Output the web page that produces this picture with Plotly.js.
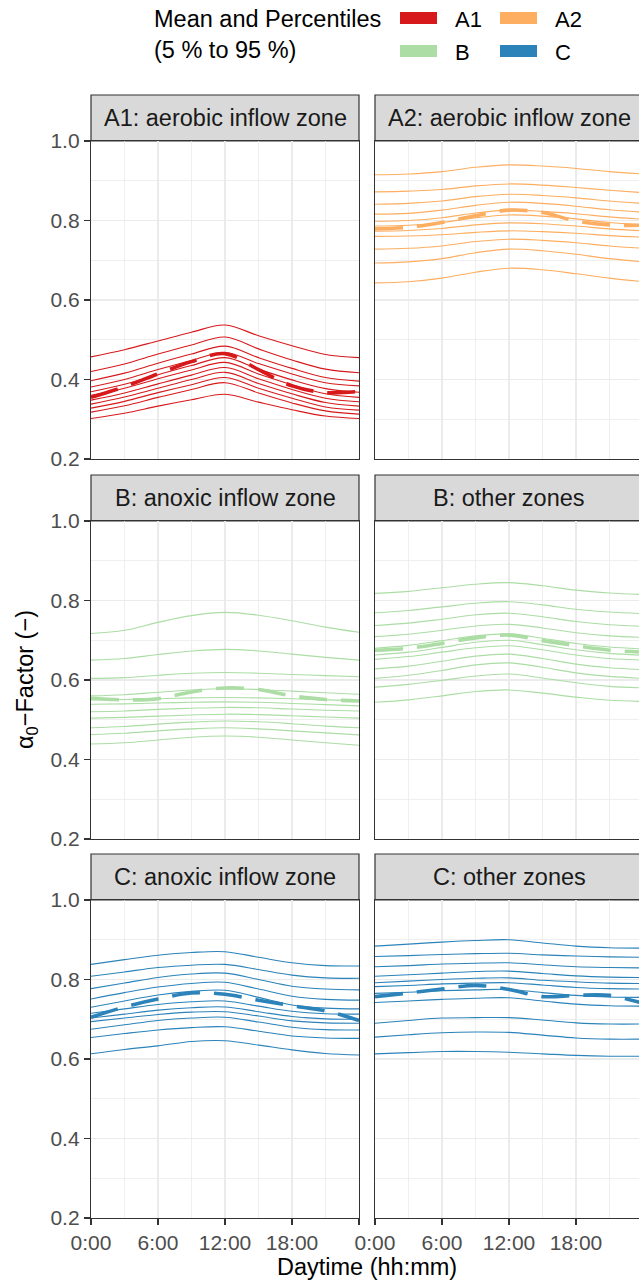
<!DOCTYPE html>
<html><head><meta charset="utf-8">
<script src="https://cdn.plot.ly/plotly-3.0.1.min.js"></script>
<style>html,body{margin:0;padding:0;overflow:hidden;background:#fff}#chart{width:645px;height:1281px}</style>
</head><body><div id="chart"></div>
<script>
// ---------- data ----------
const hours = [0, 3, 6, 9, 12, 15, 18, 21, 24];
const xTickVals = [0, 6, 12, 18, 24];
const xTickText = ['0:00', '6:00', '12:00', '18:00', '0:00'];
const xTickTextLeft = ['0:00', '6:00', '12:00', '18:00', ' '];
const yTickVals = [0.2, 0.4, 0.6, 0.8, 1.0];
const yTickText = ['0.2', '0.4', '0.6', '0.8', '1.0'];
const percentiles = ['95 %', '90 %', '80 %', '70 %', '60 %', '50 %', '40 %', '30 %', '20 %', '10 %', '5 %'];
const groupNames = ['A1', 'A2', 'B', 'C'];
const groupColors = ['#d7191c', '#fdae61', '#abdda4', '#2b83ba'];
const panelTitles = ['A1: aerobic inflow zone', 'A2: aerobic inflow zone', 'B: anoxic inflow zone',
                     'B: other zones', 'C: anoxic inflow zone', 'C: other zones'];
const panelGroups = ['A1', 'A2', 'B', 'B', 'C', 'C'];

const a1Lines = [
  [.457,.475,.497,.519,.537,.510,.485,.463,.455],
  [.420,.439,.464,.487,.507,.477,.449,.426,.417],
  [.397,.416,.441,.464,.484,.455,.428,.405,.396],
  [.381,.400,.425,.448,.468,.440,.414,.392,.384],
  [.369,.388,.412,.435,.455,.426,.399,.377,.368],
  [.360,.378,.402,.424,.443,.414,.387,.364,.355],
  [.348,.366,.389,.411,.430,.402,.375,.353,.344],
  [.338,.356,.378,.400,.418,.390,.364,.342,.333],
  [.328,.345,.367,.387,.405,.378,.353,.331,.323],
  [.318,.334,.355,.375,.392,.366,.341,.321,.313],
  [.302,.315,.333,.349,.363,.343,.324,.308,.302]];
const a1Mean = [.355,.382,.414,.445,.465,.425,.384,.367,.370];

const a2Lines = [
  [.915,.917,.923,.934,.940,.937,.931,.923,.917],
  [.872,.874,.878,.887,.892,.889,.883,.876,.870],
  [.841,.843,.849,.860,.866,.863,.857,.849,.843],
  [.816,.818,.826,.838,.846,.843,.836,.827,.821],
  [.798,.800,.807,.819,.826,.823,.817,.809,.803],
  [.786,.788,.795,.807,.814,.811,.804,.795,.789],
  [.773,.775,.780,.789,.794,.792,.786,.779,.774],
  [.760,.761,.764,.770,.774,.772,.768,.762,.758],
  [.728,.730,.736,.747,.753,.750,.744,.736,.730],
  [.693,.696,.704,.719,.728,.724,.715,.704,.696],
  [.643,.646,.655,.670,.680,.676,.666,.655,.646]];
const a2Mean = [.779,.783,.795,.812,.826,.820,.799,.789,.788];

const bAnoxicLines = [
  [.717,.725,.745,.762,.770,.763,.749,.733,.720],
  [.650,.654,.664,.673,.677,.673,.665,.657,.650],
  [.604,.606,.612,.617,.619,.617,.614,.611,.608],
  [.560,.563,.569,.575,.578,.576,.572,.568,.564],
  [.550,.551,.553,.555,.556,.555,.553,.550,.548],
  [.539,.540,.542,.544,.545,.544,.541,.538,.535],
  [.520,.522,.526,.529,.531,.530,.527,.524,.522],
  [.504,.506,.509,.512,.514,.513,.510,.507,.504],
  [.480,.483,.489,.494,.497,.495,.490,.484,.480],
  [.463,.466,.472,.477,.480,.477,.472,.467,.462],
  [.439,.442,.449,.456,.459,.456,.449,.442,.436]];
const bAnoxicMean = [.554,.550,.553,.570,.580,.576,.560,.551,.547];

const bOtherLines = [
  [.818,.823,.832,.841,.845,.837,.826,.819,.815],
  [.769,.775,.784,.793,.797,.789,.778,.771,.767],
  [.737,.743,.753,.764,.768,.759,.747,.739,.735],
  [.709,.715,.725,.736,.740,.731,.719,.711,.707],
  [.680,.687,.699,.711,.716,.705,.692,.683,.678],
  [.663,.670,.682,.695,.700,.689,.676,.667,.662],
  [.652,.659,.670,.681,.686,.676,.663,.654,.650],
  [.628,.635,.647,.660,.665,.654,.640,.631,.626],
  [.604,.612,.624,.638,.643,.632,.618,.609,.604],
  [.582,.589,.599,.610,.615,.605,.593,.584,.580],
  [.544,.550,.560,.571,.575,.567,.557,.549,.546]];
const bOtherMean = [.675,.680,.692,.706,.713,.699,.686,.675,.670];

const cAnoxicLines = [
  [.838,.850,.861,.868,.870,.856,.842,.835,.834],
  [.808,.819,.830,.836,.838,.825,.811,.804,.803],
  [.777,.791,.805,.814,.816,.800,.783,.776,.774],
  [.751,.767,.781,.790,.793,.776,.758,.750,.748],
  [.730,.746,.761,.770,.773,.755,.736,.728,.726],
  [.715,.726,.737,.744,.746,.733,.720,.714,.713],
  [.703,.713,.723,.729,.731,.719,.707,.701,.700],
  [.694,.703,.712,.718,.719,.708,.696,.691,.690],
  [.675,.686,.697,.703,.705,.693,.680,.674,.673],
  [.654,.664,.673,.679,.681,.670,.658,.653,.652],
  [.613,.624,.633,.644,.646,.635,.623,.614,.610]];
const cAnoxicMean = [.705,.731,.751,.766,.763,.748,.734,.721,.697];

const cOtherLines = [
  [.884,.889,.894,.898,.900,.892,.884,.880,.879],
  [.858,.860,.863,.865,.866,.862,.859,.857,.856],
  [.832,.835,.839,.841,.842,.837,.832,.830,.829],
  [.808,.812,.816,.820,.821,.815,.809,.806,.805],
  [.792,.796,.800,.803,.804,.798,.794,.791,.790],
  [.782,.785,.789,.791,.792,.786,.780,.777,.776],
  [.765,.768,.772,.774,.775,.767,.760,.756,.755],
  [.742,.746,.750,.753,.754,.746,.738,.734,.733],
  [.690,.697,.703,.704,.704,.698,.691,.688,.688],
  [.655,.661,.666,.668,.667,.660,.653,.650,.650],
  [.613,.616,.619,.619,.617,.613,.609,.607,.607]];
const cOtherMean = [.757,.766,.776,.785,.775,.757,.760,.760,.740];

const panelLines = [a1Lines, a2Lines, bAnoxicLines, bOtherLines, cAnoxicLines, cOtherLines];
const panelMeans = [a1Mean, a2Mean, bAnoxicMean, bOtherMean, cAnoxicMean, cOtherMean];

// ---------- geometry (pixels) ----------
const W = 645, H = 1281;
const colX = [[91, 359], [375, 643]];
const rowY = [[141, 459], [521, 839], [900, 1218]];
const stripTop = [95, 475, 854];
const px = x => x / W;
const py = y => 1 - y / H;
const FONT = 'Liberation Sans, Arial, Helvetica, sans-serif';

const traces = [];
const layout = {
  width: W, height: H, margin: {l: 0, r: 0, t: 0, b: 0},
  paper_bgcolor: '#fff', plot_bgcolor: '#fff', showlegend: false,
  font: {family: FONT, color: '#000'},
  shapes: [], annotations: []
};

for (let i = 0; i < 6; i++) {
  const row = Math.floor(i / 2), col = i % 2, k = i === 0 ? '' : String(i + 1);
  const color = groupColors[groupNames.indexOf(panelGroups[i])];
  panelLines[i].forEach((ln, j) => traces.push({
    x: hours, y: ln, xaxis: 'x' + k, yaxis: 'y' + k, mode: 'lines', name: percentiles[j],
    line: {color: color, width: 1.1, shape: 'spline', smoothing: 1}, hoverinfo: 'skip'
  }));
  traces.push({
    x: hours, y: panelMeans[i], xaxis: 'x' + k, yaxis: 'y' + k, mode: 'lines', name: 'Mean',
    line: {color: color, width: 3.6, dash: '28px,14px', shape: 'spline', smoothing: 1}, hoverinfo: 'skip'
  });
  const common = {
    showline: true, mirror: true, linecolor: '#333', linewidth: 1.2,
    showgrid: true, gridcolor: '#ebebeb', gridwidth: 1.6, zeroline: false, fixedrange: true,
    tickmode: 'array', ticklen: 6, tickwidth: 1.2, tickcolor: '#333',
    tickfont: {family: FONT, size: 21, color: '#4d4d4d'}
  };
  layout['xaxis' + k] = Object.assign({}, common, {
    domain: [px(colX[col][0]), px(colX[col][1])], anchor: 'y' + k, range: [0, 24],
    tickvals: xTickVals, ticktext: col === 0 ? xTickTextLeft : xTickText,
    showticklabels: row === 2, ticks: row === 2 ? 'outside' : '',
    minor: {tickmode: 'array', tickvals: [3, 9, 15, 21], showgrid: true, gridcolor: '#ebebeb', gridwidth: 0.8, ticks: ''}
  });
  layout['yaxis' + k] = Object.assign({}, common, {
    domain: [py(rowY[row][1]), py(rowY[row][0])], anchor: 'x' + k, range: [0.2, 1.0],
    tickvals: yTickVals, ticktext: yTickText,
    showticklabels: col === 0, ticks: col === 0 ? 'outside' : '',
    minor: {tickmode: 'array', tickvals: [0.3, 0.5, 0.7, 0.9], showgrid: true, gridcolor: '#ebebeb', gridwidth: 0.8, ticks: ''}
  });
  // strip
  layout.shapes.push({type: 'rect', xref: 'paper', yref: 'paper',
    x0: px(colX[col][0]), x1: px(colX[col][1]), y0: py(rowY[row][0]), y1: py(stripTop[row]),
    fillcolor: '#d9d9d9', line: {color: '#333', width: 1.2}, layer: 'below'});
  layout.annotations.push({xref: 'paper', yref: 'paper',
    x: px((colX[col][0] + colX[col][1]) / 2), y: py((stripTop[row] + rowY[row][0]) / 2),
    xanchor: 'center', yanchor: 'middle', showarrow: false, text: panelTitles[i],
    font: {family: FONT, size: 23.5, color: '#1a1a1a'}});
}

// axis titles
layout.annotations.push({xref: 'paper', yref: 'paper', x: px(367), y: py(1267),
  xanchor: 'center', yanchor: 'middle', showarrow: false, text: 'Daytime (hh:mm)',
  font: {family: FONT, size: 23.5, color: '#000'}});
layout.annotations.push({xref: 'paper', yref: 'paper', x: px(26), y: py(680),
  xanchor: 'center', yanchor: 'middle', showarrow: false, textangle: -90,
  text: 'α<sub>0</sub>−Factor (−)', font: {family: FONT, size: 23.5, color: '#000'}});

// legend
layout.annotations.push({xref: 'paper', yref: 'paper', x: px(152), y: py(34),
  xanchor: 'left', yanchor: 'middle', align: 'left', showarrow: false,
  text: 'Mean and Percentiles<br>(5 % to 95 %)', font: {family: FONT, size: 23.5, color: '#000'}});
const keyPos = [[400, 18], [500, 18], [400, 51], [500, 51]];
groupNames.forEach((g, i) => {
  const [kx, ky] = keyPos[i];
  layout.shapes.push({type: 'rect', xref: 'paper', yref: 'paper',
    x0: px(kx), x1: px(kx + 37), y0: py(ky + 6), y1: py(ky - 6),
    fillcolor: groupColors[i], line: {width: 0}});
  layout.annotations.push({xref: 'paper', yref: 'paper', x: px(kx + 53), y: py(ky + 1),
    xanchor: 'left', yanchor: 'middle', showarrow: false, text: g,
    font: {family: FONT, size: 22, color: '#000'}});
});

Plotly.newPlot('chart', traces, layout, {displayModeBar: false, staticPlot: true});
</script></body></html>
